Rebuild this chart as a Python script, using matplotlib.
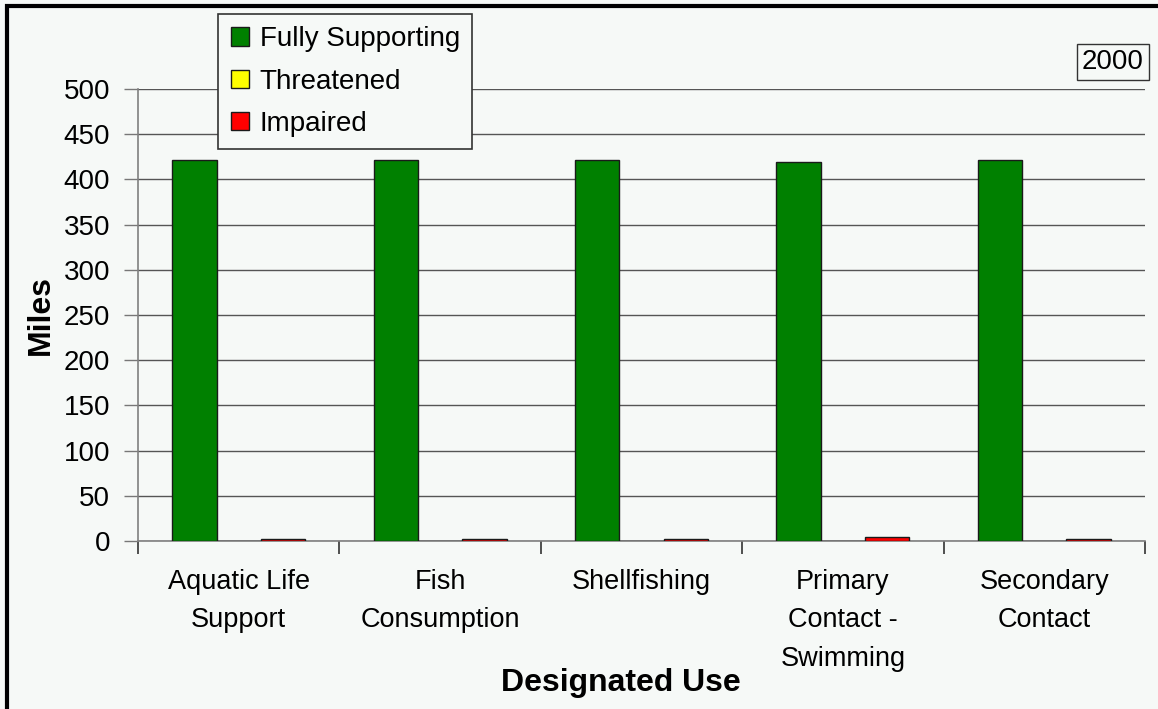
import numpy as np
import matplotlib.pyplot as plt
from matplotlib.patches import Rectangle

# miles of assessed water by designated use, year 2000
uses = ["Aquatic Life\nSupport", "Fish\nConsumption", "Shellfishing",
        "Primary\nContact -\nSwimming", "Secondary\nContact"]
fully_supporting = [421, 421, 421, 419, 421]
threatened = [0, 0, 0, 0, 0]
impaired = [2, 2, 2, 4, 2]
yticks = [0, 50, 100, 150, 200, 250, 300, 350, 400, 450, 500]

bg = '#f6f9f7'
plt.rcParams['font.family'] = ['Liberation Sans', 'DejaVu Sans']

W, H = 1158, 709
fig = plt.figure(figsize=(W / 100, H / 100), dpi=100, facecolor=bg)
ax = fig.add_axes([138 / W, 1 - 541 / H, (1145 - 138) / W, (541 - 89) / H])
ax.set_facecolor(bg)

x = np.arange(len(uses))
w = 0.22
series = [(fully_supporting, '#008000', 'Fully Supporting'),
          (threatened, '#ffff00', 'Threatened'),
          (impaired, '#ff0000', 'Impaired')]
for k, (vals, col, lab) in enumerate(series):
    ax.bar(x + (k - 1) * w, vals, w, color=col, edgecolor='#1a1a1a',
           linewidth=1, label=lab, zorder=3)

ax.set_xlim(-0.5, len(uses) - 0.5)
ax.set_ylim(0, 500)
ax.set_yticks(yticks)
ax.yaxis.grid(True, color='#555555', linewidth=1, zorder=0)
ax.set_axisbelow(True)

ax.set_xticks(x)
ax.set_xticklabels(uses, fontsize=19.5, linespacing=1.62, va='top')
ax.set_xticks(np.arange(len(uses) + 1) - 0.5, minor=True)
ax.tick_params(axis='x', which='major', length=0, pad=20)
ax.tick_params(axis='x', which='minor', length=9, width=1.2, color='#333333')
ax.tick_params(axis='y', length=10, width=1, color='#777777', labelsize=20, pad=10)

for s in ['top', 'right']:
    ax.spines[s].set_visible(False)
for s in ['left', 'bottom']:
    ax.spines[s].set_color('#808080')
    ax.spines[s].set_linewidth(1.2)

fig.text(41 / W, 1 - 315 / H, 'Miles', rotation=90, fontsize=23,
         fontweight='bold', ha='center', va='center')
fig.text(621 / W, 1 - 683 / H, 'Designated Use', fontsize=23,
         fontweight='bold', ha='center', va='center')

fig.text(1113 / W, 1 - 62 / H, '2000', fontsize=20, ha='center', va='center',
         bbox=dict(boxstyle='square,pad=0.18', facecolor=bg, edgecolor='#333333', lw=1))

leg = fig.legend(loc='upper left', bbox_to_anchor=(218 / W, 1 - 14 / H),
                 fontsize=20, frameon=True, fancybox=False, handlelength=0.65,
                 handleheight=0.65, handletextpad=0.4, labelspacing=0.58,
                 borderpad=0.45, borderaxespad=0)
leg.get_frame().set_edgecolor('#333333')
leg.get_frame().set_facecolor(bg)
leg.get_frame().set_linewidth(1.2)
leg.get_frame().set_alpha(1)

# page border on the left and top edges
fig.patches.append(Rectangle((7 / W, -0.1), 1.2, 1 - 6 / H + 0.1, transform=fig.transFigure,
                             fill=False, edgecolor='black', linewidth=3, zorder=10))

fig.savefig('out.png', dpi=100, facecolor=bg)
